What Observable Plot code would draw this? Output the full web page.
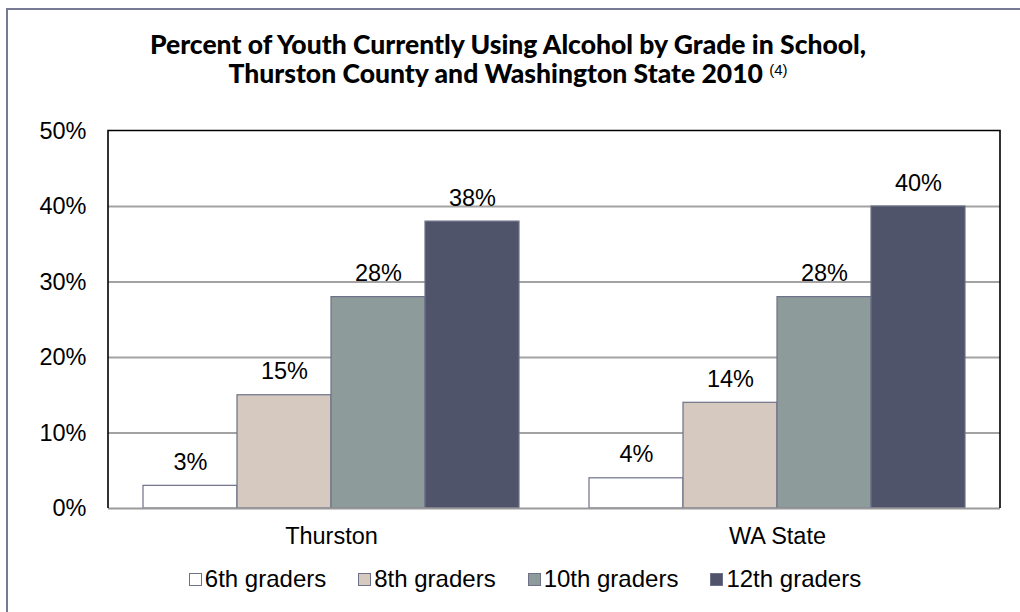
<!DOCTYPE html>
<html>
<head>
<meta charset="utf-8">
<script src="https://cdn.jsdelivr.net/npm/d3@7"></script>
<script src="https://cdn.jsdelivr.net/npm/@observablehq/plot@0.6"></script>
<style>
  html, body { margin: 0; padding: 0; background: #fff; }
  body { width: 1020px; height: 612px; position: relative; overflow: hidden; font-family: "Liberation Sans", Arial, sans-serif; }
  #border { position: absolute; left: 6px; top: 8px; width: 1030px; height: 620px; border-left: 2px solid #767a94; border-top: 2px solid #767a94; box-sizing: border-box; }
  #title { position: absolute; left: 0; top: 30px; width: 1016px; text-align: center; font-family: Lato, "DejaVu Sans", sans-serif; font-weight: 900; font-size: 26.5px; line-height: 29px; color: #000; }
  #title sup { font-weight: normal; font-size: 15px; font-family: "Liberation Sans", Arial, sans-serif; vertical-align: 8px; line-height: 0; }
  #chart { position: absolute; left: 0; top: 0; }
  #legend { position: absolute; left: 0; top: 565px; width: 1050px; display: flex; justify-content: center; gap: 32px; font-size: 24px; color: #000; }
  #legend .item { display: flex; align-items: center; }
  #legend .sw { width: 11px; height: 11px; border: 1.5px solid #6e7188; margin-right: 3px; }
</style>
</head>
<body>
<div id="border"></div>
<div id="title">Percent of Youth Currently Using Alcohol by Grade in School,<br>Thurston County and Washington State 2010 <sup>(4)</sup></div>
<div id="chart"></div>
<div id="legend"></div>
<script>
const groups = ["Thurston", "WA State"];
const grades = ["6th graders", "8th graders", "10th graders", "12th graders"];
const thurston = [3, 15, 28, 38];
const waState = [4, 14, 28, 40];
const yTicks = [0, 10, 20, 30, 40, 50];
const gridTicks = [10, 20, 30, 40];
const colors = ["#ffffff", "#d5c9c0", "#8d9c9b", "#4f546a"];

const data = [];
grades.forEach((g, i) => {
  data.push({group: groups[0], grade: g, value: thurston[i]});
  data.push({group: groups[1], grade: g, value: waState[i]});
});

const plot = Plot.plot({
  width: 1020,
  height: 560,
  marginTop: 130.5,
  marginBottom: 52,
  marginLeft: 108,
  marginRight: 20,
  style: {fontFamily: "'Liberation Sans', Arial, sans-serif", fontSize: "23.5px", color: "#000", background: "transparent"},
  fx: {domain: groups, padding: 0, label: null, tickSize: 0, tickPadding: 19, axis: "bottom"},
  x: {domain: grades, paddingInner: 0, paddingOuter: 0.372, axis: null},
  y: {domain: [0, 50], ticks: yTicks, tickFormat: d => d + "%", tickSize: 0, tickPadding: 22, label: null},
  color: {domain: grades, range: colors},
  marks: [
    Plot.ruleY(gridTicks, {stroke: "#a3a3a3", strokeWidth: 2}),
    Plot.barY(data, {fx: "group", x: "grade", y: "value", fill: "grade", stroke: "#6e7188", strokeWidth: 1.2}),
    Plot.ruleY([0], {stroke: "#9a9a9a", strokeWidth: 2}),
    Plot.text(data, {fx: "group", x: "grade", y: "value", text: d => d.value + "%", lineAnchor: "bottom", dy: -16, fontSize: 23.5, fill: "#000"})
  ]
});
document.getElementById("chart").appendChild(plot);

// plot-area frame (left, top, right) from the library's scales
const fxr = plot.scale("fx").range;
const yr = plot.scale("y").range;
const x0 = Math.min(...fxr), x1 = Math.max(...fxr);
const yb = Math.max(...yr), yt = Math.min(...yr);
d3.select(plot).append("path")
  .attr("d", `M${x0},${yb}V${yt}H${x1}V${yb}`)
  .attr("fill", "none").attr("stroke", "#000").attr("stroke-width", 1.6);

const legend = document.getElementById("legend");
grades.forEach((g, i) => {
  const it = document.createElement("div");
  it.className = "item";
  const sw = document.createElement("span");
  sw.className = "sw";
  sw.style.background = colors[i];
  it.appendChild(sw);
  it.appendChild(document.createTextNode(g));
  legend.appendChild(it);
});
</script>
</body>
</html>
